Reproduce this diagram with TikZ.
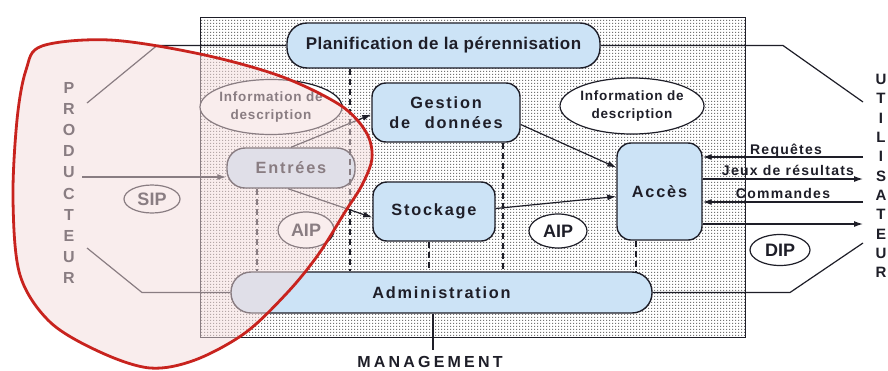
\documentclass[tikz,border=0pt]{standalone}
\usepackage{fontspec}
\setmainfont{Liberation Sans}
\newfontfamily\boxfont[LetterSpace=11]{Liberation Sans}
\newfontfamily\planfont[LetterSpace=3]{Liberation Sans}
\newfontfamily\smallfont[LetterSpace=9]{Liberation Sans}
\newfontfamily\infofont[LetterSpace=6]{Liberation Sans}
\newfontfamily\widefont[LetterSpace=20]{Liberation Sans}
\usetikzlibrary{patterns,arrows.meta,shapes.geometric,calc}

% regular grid of small square dots for the archive area
\pgfdeclarepatternformonly{griddots}{\pgfpointorigin}{\pgfpoint{3.2pt}{3.2pt}}{\pgfpoint{3.2pt}{3.2pt}}%
  {\pgfpathrectangle{\pgfpointorigin}{\pgfpoint{1.4pt}{1.4pt}}\pgfusepath{fill}}

\definecolor{boxblue}{RGB}{204,227,246}
\definecolor{ink}{RGB}{30,30,40}
\definecolor{blobred}{RGB}{200,35,30}
\definecolor{blobfill}{RGB}{245,220,220}

\tikzset{
  archive/.style={draw=ink, line width=1pt, pattern=griddots, pattern color=black!55,
    minimum width=545pt, minimum height=320pt, inner sep=0pt},
  proc/.style={draw=ink, line width=1.4pt, fill=boxblue, rounded corners=14pt,
    font=\boxfont\bfseries\fontsize{16.3}{20}\selectfont, text=ink, align=center, inner sep=0pt},
  bubble/.style={draw=ink, line width=1.2pt, fill=white, ellipse, inner sep=0pt,
    font=\bfseries\fontsize{18}{20}\selectfont, text=ink},
  bubbletext/.style={font=\infofont\bfseries\fontsize{13.5}{18}\selectfont, text=ink, align=center, inner sep=0pt},
  lbl/.style={font=\smallfont\bfseries\fontsize{14}{16}\selectfont, text=ink, inner sep=0pt, anchor=base},
  prodword/.style={font=\bfseries\fontsize{16}{21.1}\selectfont, text=ink, align=center, inner sep=0pt},
  userword/.style={font=\bfseries\fontsize{15}{19.3}\selectfont, text=ink, align=center, inner sep=0pt},
  conn/.style={draw=ink, line width=1.2pt},
  arr/.style={conn, -{Latex[length=9pt,width=6pt]}},
  dsh/.style={draw=ink, line width=1.6pt, dash pattern=on 6pt off 4pt},
}

\begin{document}
\begin{tikzpicture}[x=1pt,y=-1pt]
\useasboundingbox (0,0) rectangle (888,370);
\fill[white] (0,0) rectangle (888,370);

% archive area
\fill[white] (200,17) rectangle (745,337);
\node[archive] (frame) at (472.5,177) {};

% functional entities
\node[proc, rounded corners=20pt, minimum width=313pt, minimum height=45pt, font=\planfont\bfseries\fontsize{17}{20}\selectfont]
  (plan) at (443.5,45.5) {Planification de la pérennisation};
\node[proc, rounded corners=18pt, minimum width=128pt, minimum height=40pt] (entrees) at (291,168) {Entrées};
\node[proc, minimum width=148pt, minimum height=59pt] (gest) at (446,112.5) {Gestion\\de\hspace{0.9em}données};
\node[proc, minimum width=122pt, minimum height=59pt] (stock) at (434,211.5) {Stockage};
\node[proc, minimum width=85pt, minimum height=97pt] (acces) at (659.5,191.5) {Accès};
\node[proc, rounded corners=20pt, minimum width=421pt, minimum height=41pt] (admin) at (441.5,292.5) {Administration};

% information packages and descriptive information
\node[bubble, minimum width=142pt, minimum height=55pt] (infoL) at (271,107) {};
\node[bubbletext] (infoLtxt) at (infoL) {Information de\\description};
\node[bubble, minimum width=144pt, minimum height=56pt] (infoR) at (632,106) {};
\node[bubbletext] (infoRtxt) at (infoR) {Information de\\description};
\node[bubble, minimum width=56pt, minimum height=28pt] (sip) at (152,199) {SIP};
\node[bubble, minimum width=56pt, minimum height=36pt] (aipL) at (306,230) {AIP};
\node[bubble, minimum width=58pt, minimum height=34pt] (aipM) at (558,231) {AIP};
\node[bubble, minimum width=60pt, minimum height=31pt] (dip) at (780,250) {DIP};

% external actors
\node[prodword] (prod) at (69,183) {P\\R\\O\\D\\U\\C\\T\\E\\U\\R};
\node[userword] (user) at (881,176) {U\\T\\I\\L\\I\\S\\A\\T\\E\\U\\R};
\node[font=\widefont\bfseries\fontsize{16}{18}\selectfont, text=ink, inner sep=0pt] (mgmt) at (430,362) {MANAGEMENT};

% free ends and knees of the outer links
\coordinate (pTop) at (87,103);
\coordinate (pTopK) at (157,0);
\coordinate (pBot) at (87,248);
\coordinate (pBotK) at (142,0);
\coordinate (uTop) at (863,102);
\coordinate (uTopK) at (783,0);
\coordinate (uBot) at (863,243);
\coordinate (uBotK) at (790,0);
\coordinate (pMid) at (82,177);
\coordinate (mgTop) at (433,350);

\draw[conn] (plan.west) -- (plan.west -| pTopK) -- (pTop);
\draw[conn] (plan.east) -- (plan.east -| uTopK) -- (uTop);
\draw[conn] (admin.west) -- (admin.west -| pBotK) -- (pBot);
\draw[conn] (admin.east) -- (admin.east -| uBotK) -- (uBot);
\draw[conn] (admin.south -| mgTop) -- (mgTop);

% internal flows
\draw[arr] (pMid) -- (entrees.west |- pMid);
\draw[arr] (entrees.north) -- ($(gest.west)+(0,2)$);
\draw[arr] ($(entrees.south)+(-3,0)$) -- ($(stock.west)+(0,6)$);
\draw[arr] ($(gest.east)+(0,12)$) -- ($(acces.west)+(0,-24)$);
\draw[arr] ($(stock.east)+(0,-3)$) -- ($(acces.west)+(0,5)$);

% consumer interface
\coordinate (reqEnd) at (863,157);
\coordinate (resEnd) at (863,179);
\coordinate (cmdEnd) at (863,202);
\coordinate (dipEnd) at (863,224);
\draw[arr] (reqEnd) -- (acces.east |- reqEnd);
\draw[arr] (acces.east |- resEnd) -- (resEnd);
\draw[arr] (cmdEnd) -- (acces.east |- cmdEnd);
\draw[arr] (acces.east |- dipEnd) -- (dipEnd);
\node[lbl] (lreq) at (786,154) {Requêtes};
\node[lbl] (lres) at (788,175) {Jeux de résultats};
\node[lbl] (lcmd) at (783,198) {Commandes};

% management links between entities
\coordinate (d0) at (257,0);
\coordinate (d1) at (350,0);
\coordinate (d2) at (429,0);
\coordinate (d3) at (503,0);
\coordinate (d4) at (636,0);
\draw[dsh] (entrees.south -| d0) -- (admin.north -| d0);
\draw[dsh] (plan.south -| d1) -- (admin.north -| d1);
\draw[dsh] (stock.south -| d2) -- (admin.north -| d2);
\draw[dsh] (gest.south -| d3) -- (admin.north -| d3);
\draw[dsh] (acces.south -| d4) -- (admin.north -| d4);

% producer side highlighted
\filldraw[fill=blobfill, fill opacity=0.5, draw=blobred, line width=2.8pt]
  plot[smooth cycle, tension=0.55] coordinates {
    (42,46) (110,40) (200,54) (280,76) (340,105) (366,132) (372,158) (362,185)
    (345,212) (318,255) (287,293) (245,333) (195,360) (150,368) (100,352)
    (50,322) (20,275) (13,200) (17,120) (26,70)};
\end{tikzpicture}
\end{document}
